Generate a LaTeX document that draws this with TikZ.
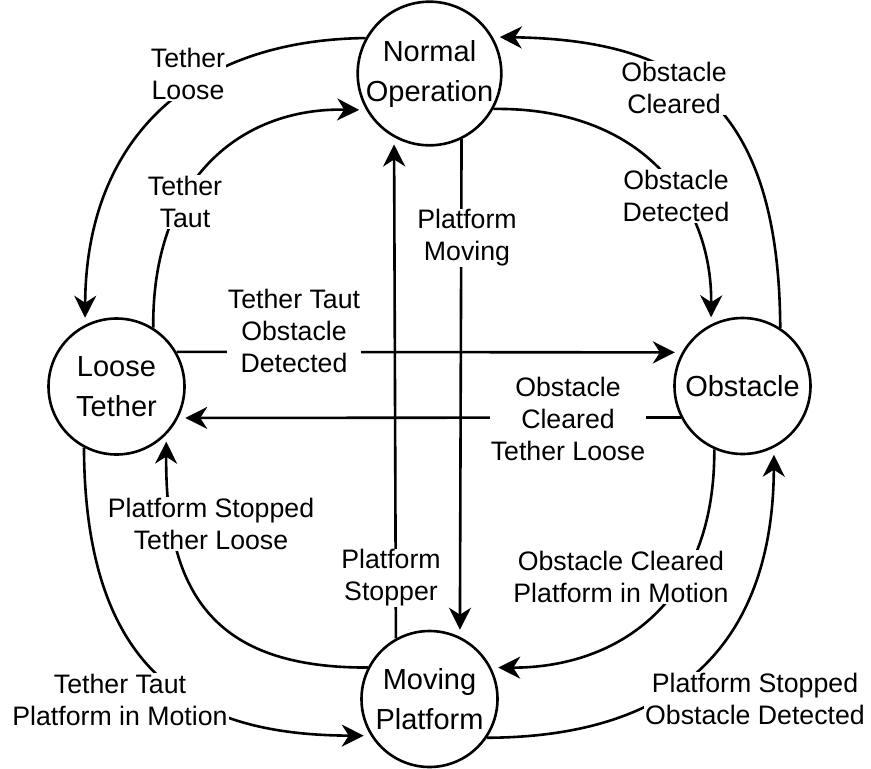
\documentclass[tikz,border=0pt]{standalone}
\usepackage{fontspec}
\setmainfont{Liberation Sans}
\usetikzlibrary{calc, positioning}
\usetikzlibrary{arrows.meta}

\begin{document}
\begin{tikzpicture}[x=1pt, y=-1pt,
  state/.style={circle, draw, line width=2.6pt, minimum size=136pt, inner sep=0pt,
    align=center, font=\fontsize{29}{40}\selectfont},
  trans/.style={line width=2.6pt, -{Stealth[length=22pt, width=22pt, inset=7pt]}, shorten >=7pt},
  lbl/.style={fill=white, inner sep=1pt, align=center, font=\fontsize{26.7}{32}\selectfont}]
\useasboundingbox (0,0) rectangle (871,769);

\node[state] (no) at (429.5,73.5) {Normal\\Operation};
\node[state] (lt) at (116.5,386.5) {Loose\\Tether};
\node[state] (obs) at (742.5,386) {Obstacle};
\node[state] (mp) at (429.5,699) {Moving\\Platform};

\draw[trans] (no.151) .. controls (190,40) and (86,140) .. (lt.117)
  node[lbl] at (188,74) {Tether\\Loose};
\draw[trans] (lt.58) .. controls (152,180) and (240,107.5) .. (no.210)
  node[lbl] at (185,202) {Tether\\Taut};
\draw[trans] (no.331) .. controls (640,107) and (712,200) .. (obs.117)
  node[lbl] at (676,196) {Obstacle\\Detected};
\draw[trans] (obs.57) .. controls (779,100) and (680,40) .. (no.30)
  node[lbl] at (674,88) {Obstacle\\Cleared};

\draw[trans] (lt.30) -- (obs.151)
  node[lbl] at (294,331) {Tether Taut\\Obstacle\\Detected};
\draw[trans] (obs.207) -- (lt.333)
  node[lbl] at (568,419) {Obstacle\\Cleared\\Tether Loose};
\draw[trans] (mp.119) -- (no.241)
  node[lbl] at (391,578) {Platform\\Stopper};
\draw[trans] (no.296) -- (mp.64)
  node[lbl] at (467,238) {Platform\\Moving};

\draw[trans] (mp.153) .. controls (220,668) and (165,600) .. (lt.316)
  node[lbl] at (211,524) {Platform Stopped\\Tether Loose};
\draw[trans] (lt.242) .. controls (85,680) and (200,735) .. (mp.212)
  node[lbl] at (120,700) {Tether Taut\\Platform in Motion};
\draw[trans] (obs.246) .. controls (715,610) and (610,668) .. (mp.27)
  node[lbl] at (621,577) {Obstacle Cleared\\Platform in Motion};
\draw[trans] (mp.326) .. controls (700,737) and (773,620) .. (obs.297)
  node[lbl] at (755,699) {Platform Stopped\\Obstacle Detected};
\end{tikzpicture}
\end{document}
